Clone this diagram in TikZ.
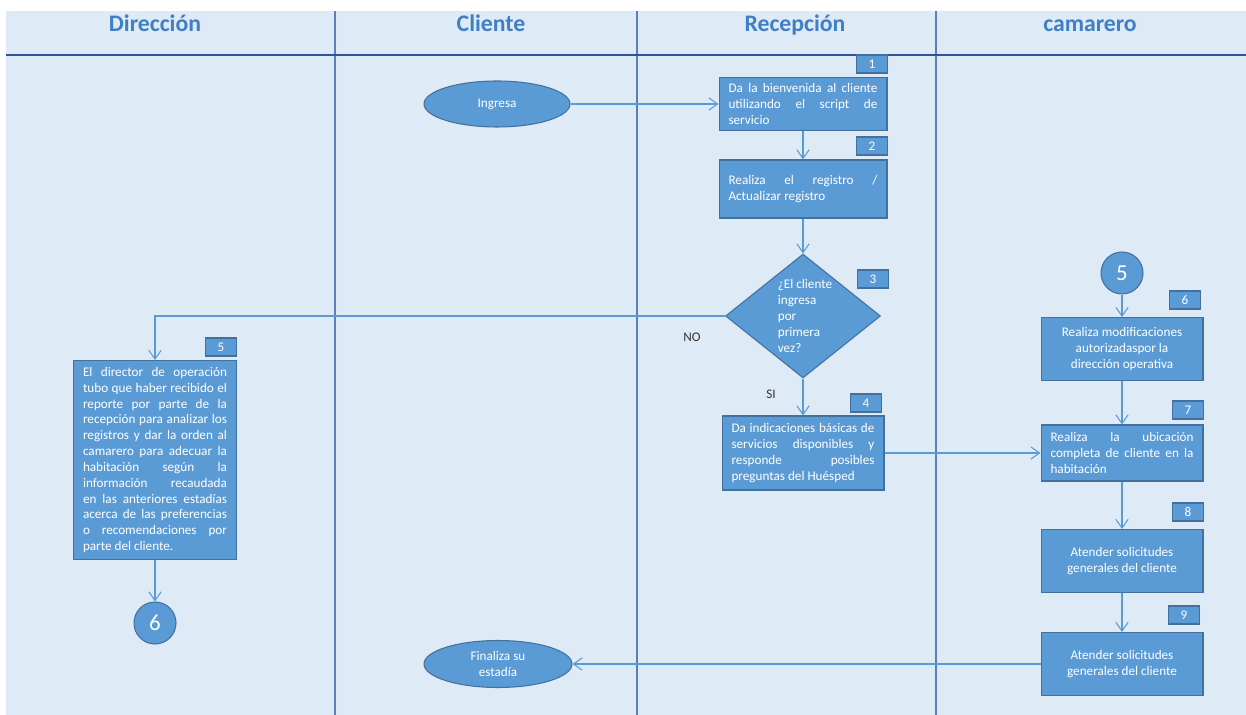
\documentclass[tikz,border=0pt]{standalone}
\usepackage{fontspec}
\setmainfont{Carlito}
\usepackage{tikz}
\usetikzlibrary{arrows.meta,shapes.geometric}
\tikzset{>={Straight Barb[length=5pt,width=7pt]}}

\definecolor{fondo}{HTML}{DEEAF6}
\definecolor{relleno}{HTML}{5B9BD5}
\definecolor{borde}{HTML}{41719C}
\definecolor{carril}{HTML}{5B7FC2}
\definecolor{cabeza}{HTML}{2F5496}
\definecolor{titulo}{HTML}{3F7FC6}

\tikzset{
  paso/.style={draw=borde, fill=relleno, text=white, line width=0.6pt,
    font=\fontsize{7.5}{9}\selectfont, inner sep=0pt},
  num/.style={paso, minimum width=0.62cm, minimum height=0.36cm},
  conector/.style={->, draw=relleno, line width=0.6pt},
  titulos/.style={text=titulo, font=\fontsize{13.5}{16}\bfseries\selectfont, anchor=base, inner sep=0pt},
  marca/.style={text=black!80, font=\fontsize{7.5}{9}\selectfont}
}

\begin{document}
\begin{tikzpicture}[x=0.02cm, y=-0.02cm]

  \useasboundingbox (0,0) rectangle (1246,715);
  \fill[fondo] (6,11) rectangle (1246,715);

  %% lanes
  \draw[carril, line width=0.6pt] (335,11) -- (335,715);
  \draw[carril, line width=0.6pt] (637,11) -- (637,715);
  \draw[carril, line width=0.6pt] (936,11) -- (936,715);
  \draw[cabeza, line width=0.9pt] (6,55) -- (1246,55);

  \node[titulos] (tdir) at (155,32) {Dirección};
  \node[titulos] (tcli) at (491,32) {Cliente};
  \node[titulos] (trec) at (795,32) {Recepción};
  \node[titulos] (tcam) at (1090,32) {camarero};

  %% Cliente
  \node[paso, ellipse, minimum width=2.92cm, minimum height=0.92cm] (ingresa) at (497,104) {Ingresa};
  \node[paso, ellipse, minimum width=2.96cm, minimum height=0.94cm, align=center] (finaliza) at (498,664) {Finaliza su\\estadía};

  %% Recepcion
  \node[paso, minimum width=3.36cm, minimum height=1.06cm, text width=2.98cm, align=justify] (b1) at (803,104)
    {Da la bienvenida al cliente\linebreak utilizando el script de\linebreak servicio};
  \node[num] (n1) at (872,64) {1};
  \node[paso, minimum width=3.36cm, minimum height=1.16cm, text width=2.98cm, align=justify] (b2) at (803,189)
    {Realiza el registro /\linebreak Actualizar registro};
  \node[num] (n2) at (872,146) {2};
  \node[paso, diamond, minimum width=3.1cm, minimum height=2.48cm] (d3) at (803,316) {};
  \node[text=white, font=\fontsize{7.5}{9.2}\selectfont, align=left, inner sep=0pt] (t3) at (805,316)
    {¿El cliente\\ingresa\\por\\primera\\vez?};
  \node[num] (n3) at (873,279) {3};
  \node[paso, minimum width=3.24cm, minimum height=1.48cm, text width=2.86cm, align=justify] (b4) at (803,453)
    {Da indicaciones básicas de\linebreak servicios disponibles y\linebreak responde posibles\linebreak preguntas del Huésped};
  \node[num] (n4) at (866,403) {4};
  \node[marca] (no) at (692,337) {NO};
  \node[marca] (si) at (771,394) {SI};

  %% Direccion
  \node[paso, minimum width=3.26cm, minimum height=3.98cm, text width=2.88cm, align=justify] (b5) at (155,460)
    {El director de operación\linebreak tubo que haber recibido el\linebreak reporte por parte de la\linebreak
     recepción para analizar los\linebreak registros y dar la orden al\linebreak camarero para adecuar la\linebreak
     habitación según la\linebreak información recaudada\linebreak en las anteriores estadías\linebreak
     acerca de las preferencias\linebreak o recomendaciones por\linebreak parte del cliente.};
  \node[num] (n5) at (221,347) {5};
  \node[paso, circle, minimum size=0.84cm, font=\fontsize{13}{15}\selectfont] (c6) at (155,623) {6};

  %% camarero
  \node[paso, circle, minimum size=0.84cm, font=\fontsize{13}{15}\selectfont] (c5) at (1122,273) {5};
  \node[paso, minimum width=3.24cm, minimum height=1.26cm, align=center] (b6) at (1122,349)
    {Realiza modificaciones\\autorizadaspor la\\dirección operativa};
  \node[num] (n6) at (1185,300) {6};
  \node[paso, minimum width=3.24cm, minimum height=1.12cm, text width=2.86cm, align=justify] (b7) at (1122,453)
    {Realiza la ubicación\linebreak completa de cliente en la\linebreak habitación};
  \node[num] (n7) at (1188,410) {7};
  \node[paso, minimum width=3.24cm, minimum height=1.26cm, align=center] (b8) at (1122,561)
    {Atender solicitudes\\generales del cliente};
  \node[num] (n8) at (1188,512) {8};
  \node[paso, minimum width=3.24cm, minimum height=1.26cm, align=center] (b9) at (1122,664)
    {Atender solicitudes\\generales del cliente};
  \node[num] (n9) at (1184,615) {9};

  \draw[conector] (ingresa) -- (b1); %% Ingresa->1
  \draw[conector] (b1) -- (b2); %% 1->2
  \draw[conector] (b2) -- (d3); %% 2->3
  \draw[conector] (d3) -- (b4); %% 3->4 (SI)
  \draw[conector] (d3.west) -| (b5.north); %% 3->5 (NO)
  \draw[conector] (b5) -- (c6); %% 5->6
  \draw[conector] (b4) -- (b7); %% 4->7
  \draw[conector] (c5) -- (b6); %% 5->6
  \draw[conector] (b6) -- (b7); %% 6->7
  \draw[conector] (b7) -- (b8); %% 7->8
  \draw[conector] (b8) -- (b9); %% 8->9
  \draw[conector] (b9) -- (finaliza); %% 9->fin

\end{tikzpicture}
\end{document}
